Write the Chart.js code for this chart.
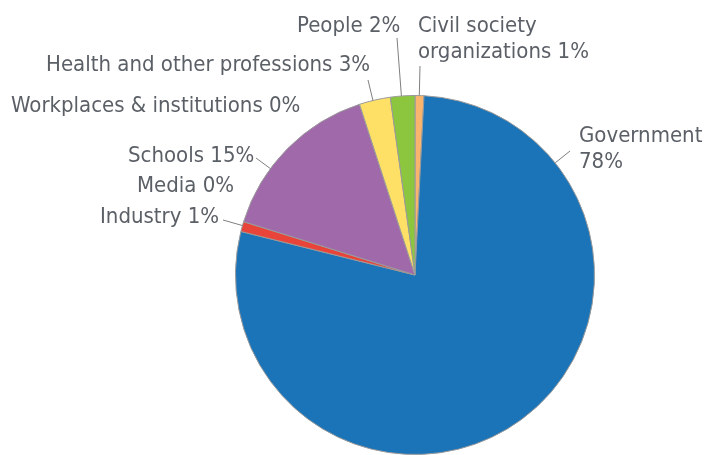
<!DOCTYPE html>
<html>
<head>
<meta charset="utf-8">
<script src="https://cdn.jsdelivr.net/npm/chart.js@4/dist/chart.umd.min.js"></script>
<style>
  html, body { margin: 0; padding: 0; background: #fff; overflow: hidden; }
  #wrap { width: 705px; height: 455px; position: relative; }
</style>
</head>
<body>
<div id="wrap"><canvas id="c" width="705" height="455"></canvas></div>
<script>
// ---- data ----
const categories = [
  "Civil society organizations",
  "Government",
  "Industry",
  "Media",
  "Schools",
  "Workplaces & institutions",
  "Health and other professions",
  "People"
];
const shares = [0.8, 78.1, 0.9, 0, 15.2, 0, 2.8, 2.2];
const sliceColors = ["#F9B46E", "#1B74B8", "#E8443A", "#A06AAA", "#A06AAA", "#A06AAA", "#FFE066", "#8CC63F"];

// ---- label layout (text placement only: left x, first baseline y) ----
const labelLayout = [
  { x: 418, y: 32,  maxWidth: 200, leaderTo: [420, 66] },  // Civil society
  { x: 579, y: 142, maxWidth: 125, leaderTo: [570, 151] }, // Government
  { x: 100, y: 223, maxWidth: 400, leaderTo: [223, 220] }, // Industry
  { x: 137, y: 192, maxWidth: 400, leaderTo: null },       // Media
  { x: 128, y: 162, maxWidth: 400, leaderTo: [256, 158] }, // Schools
  { x: 11,  y: 112, maxWidth: 400, leaderTo: null },       // Workplaces
  { x: 46,  y: 71,  maxWidth: 400, leaderTo: [368, 80] },  // Health
  { x: 297, y: 32,  maxWidth: 400, leaderTo: [397, 38] }   // People
];

const FONT = '22px "DejaVu Sans Condensed", "DejaVu Sans", sans-serif';
const TEXT_COLOR = "#5B5F66";
const LINE_HEIGHT = 26;

function wrapWords(ctx, text, maxWidth) {
  const words = text.split(" ");
  const lines = [];
  let cur = "";
  for (const w of words) {
    const test = cur ? cur + " " + w : w;
    if (ctx.measureText(test).width > maxWidth && cur) {
      lines.push(cur);
      cur = w;
    } else {
      cur = test;
    }
  }
  if (cur) lines.push(cur);
  return lines;
}

const labelPlugin = {
  id: "pieLabels",
  afterDatasetsDraw(chart) {
    const ctx = chart.ctx;
    const meta = chart.getDatasetMeta(0);
    const total = shares.reduce((a, b) => a + b, 0);
    ctx.save();
    ctx.font = FONT;
    ctx.fillStyle = TEXT_COLOR;
    ctx.textBaseline = "alphabetic";
    ctx.textAlign = "left";
    meta.data.forEach((arc, i) => {
      const lay = labelLayout[i];
      const pct = Math.round(shares[i] / total * 100) + "%";
      const text = categories[i] + " " + pct;
      const lines = wrapWords(ctx, text, lay.maxWidth);
      lines.forEach((ln, k) => ctx.fillText(ln, lay.x, lay.y + k * LINE_HEIGHT));
      if (lay.leaderTo) {
        const cx = arc.x, cy = arc.y, r = arc.outerRadius;
        const [ex, ey] = lay.leaderTo;
        const d = Math.hypot(ex - cx, ey - cy);
        const sx = cx + (ex - cx) / d * r;
        const sy = cy + (ey - cy) / d * r;
        ctx.beginPath();
        ctx.strokeStyle = "#7F7F7F";
        ctx.lineWidth = 1;
        ctx.moveTo(sx, sy);
        ctx.lineTo(ex, ey);
        ctx.stroke();
      }
    });
    ctx.restore();
  }
};

new Chart(document.getElementById("c"), {
  type: "pie",
  data: {
    labels: categories,
    datasets: [{
      data: shares,
      backgroundColor: sliceColors,
      borderColor: "#9A9A9A",
      borderWidth: 1
    }]
  },
  options: {
    responsive: false,
    animation: false,
    layout: { padding: { left: 234, right: 109, top: 95, bottom: 0 } },
    plugins: {
      legend: { display: false },
      tooltip: { enabled: false }
    }
  },
  plugins: [labelPlugin]
});
</script>
</body>
</html>
